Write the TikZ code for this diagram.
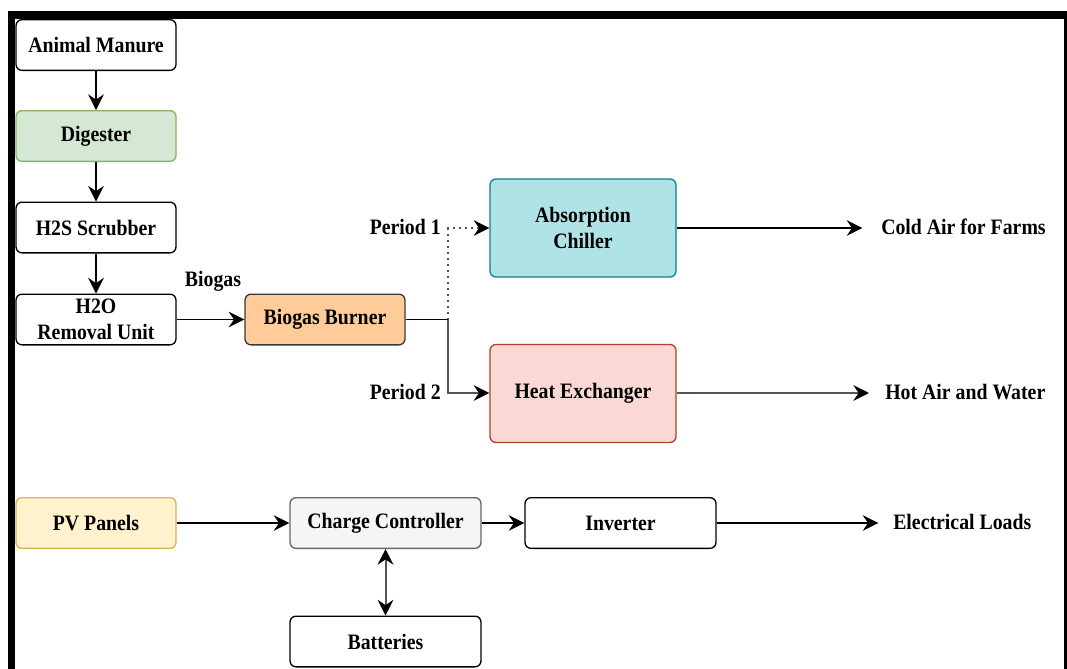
\documentclass[tikz,border=0pt]{standalone}
\usepackage{fontspec}
\setmainfont{Liberation Serif}[FakeStretch=0.9]
\usetikzlibrary{arrows.meta}
\definecolor{digfill}{HTML}{D5E8D4}
\definecolor{digline}{HTML}{82B366}
\definecolor{burnfill}{HTML}{FFCC99}
\definecolor{burnline}{HTML}{36393D}
\definecolor{chillfill}{HTML}{B0E3E6}
\definecolor{chillline}{HTML}{0E8088}
\definecolor{hexfill}{HTML}{FAD9D5}
\definecolor{hexline}{HTML}{AE4132}
\definecolor{pvfill}{HTML}{FFF2CC}
\definecolor{pvline}{HTML}{D6B656}
\definecolor{ccfill}{HTML}{F5F5F5}
\definecolor{ccline}{HTML}{666666}
\definecolor{pipe}{HTML}{555555}
\tikzset{headtip/.style={-{Stealth[length=9pt,width=9pt,inset=3pt,scale=1.3,color=black]}}}
\begin{document}
\begin{tikzpicture}[x=0.75pt,y=-0.75pt,
  every node/.style={font=\fontsize{16.5}{19.5}\selectfont\bfseries},
  box/.style={draw, rounded corners=4.5pt, line width=1pt, align=center,
    inner sep=0pt, minimum width=120pt, minimum height=38pt},
  wide/.style={box, minimum width=143.25pt},
  big/.style={box, minimum width=139.5pt, minimum height=73.5pt},
  flow/.style={line width=1pt, headtip},
  heavy/.style={flow, draw=pipe, line width=1.5pt},
  lbl/.style={inner sep=0pt}
]
\clip (0,0) rectangle (1067,668);
\fill[white] (0,0) rectangle (1067,668);
% outer frame
\draw[line width=5.6pt] (11.5,15) rectangle (1067.5,720);

% biogas chain
\node[box] (manure) at (96,45) {Animal Manure};
\node[box, fill=digfill, draw=digline] (dig) at (96,136) {Digester};
\node[box] (h2s) at (96,227.5) {H2S Scrubber};
\node[box] (h2o) at (96,319.5) {H2O\\Removal Unit};
\node[box, fill=burnfill, draw=burnline] (burn) at (325,319.5) {Biogas Burner};
\node[big, fill=chillfill, draw=chillline] (chill) at (583,228) {Absorption\\Chiller};
\node[big, fill=hexfill, draw=hexline] (hex) at (583,393.5) {Heat Exchanger};

% solar chain
\node[box, fill=pvfill, draw=pvline] (pv) at (96,523) {PV Panels};
\node[wide, fill=ccfill, draw=ccline] (cc) at (385.5,523) {Charge Controller};
\node[wide] (inv) at (620.5,523) {Inverter};
\node[wide] (bat) at (385.5,641.5) {Batteries};

% labels
\node[lbl] (biogas) at (213,281) {Biogas};
\node[lbl, anchor=east] (p1) at (441,227) {Period 1};
\node[lbl, anchor=east] (p2) at (441,392) {Period 2};
\node[lbl, anchor=west] (cold) at (881,227) {Cold Air for Farms};
\node[lbl, anchor=west] (hot) at (885,392) {Hot Air and Water};
\node[lbl, anchor=west] (load) at (893,522) {Electrical Loads};

\coordinate (j) at (448,319.5);
\coordinate (jup) at (448,228);
\coordinate (jdn) at (448,393);

% connectors
\draw[flow] (manure) -- (dig);
\draw[flow] (dig) -- (h2s);
\draw[flow] (h2s) -- (h2o);
\draw[flow] (h2o) -- (burn);
\draw[flow, draw=pipe, dash pattern=on 1.5pt off 3pt] (j) -- (jup) -- (chill.west);
\draw[line width=1pt] (burn.east) -- (j);
\draw[heavy] (j) -- (jdn) -- (hex.west |- jdn);
\draw[flow, shorten >=14pt] (chill.east) -- (chill.east -| cold.west);
\draw[heavy, shorten >=12pt] (hex.east |- jdn) -- (jdn -| hot.west);
\draw[flow] (pv) -- (cc);
\draw[flow] (cc) -- (inv);
\draw[flow, shorten >=11pt] (inv.east) -- (inv.east -| load.west);
\draw[heavy, {Stealth[length=9pt,width=9pt,inset=3pt,scale=1.3,color=black]}-{Stealth[length=9pt,width=9pt,inset=3pt,scale=1.3,color=black]}] (cc) -- (bat);
\end{tikzpicture}
\end{document}
